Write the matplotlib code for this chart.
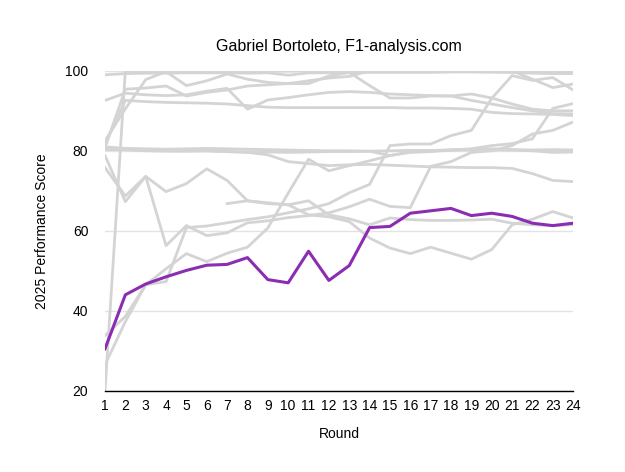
import numpy as np
import matplotlib
matplotlib.use('Agg')
from matplotlib import pyplot as plt

plt.rcParams['font.family'] = ['Liberation Sans', 'DejaVu Sans']

rounds = list(range(1, 25))
nan = np.nan

# Gabriel Bortoleto
bortoleto = [30.5, 44.0, 46.7, 48.5, 50.1, 51.4, 51.6, 53.3, 47.8, 47.0, 54.9, 47.6,
             51.3, 60.8, 61.1, 64.4, 65.0, 65.6, 63.8, 64.4, 63.6, 61.9, 61.3, 61.9]

# the rest of the field (grey)
others = [
    [99.0, 99.3, 99.4, 99.4, 99.5, 99.5, 99.5, 99.4, 99.5, 98.9, 99.5, 99.5,
     99.5, 99.6, 99.6, 99.6, 99.6, 99.7, 99.7, 99.7, 99.7, 99.6, 99.6, 99.6],
    [20.0, 100.0, 99.9, 99.9, 99.8, 99.8, 99.8, 99.9, 99.9, 99.9, 100.0, 100.0,
     100.0, 100.0, 100.0, 100.0, 100.0, 100.0, 100.0, 100.0, 100.0, 97.9, 95.8, 96.7],
    [82.5, 90.5, 97.8, 99.8, 96.3, 97.5, 99.2, 97.9, 97.1, 96.8, 96.8, 98.7,
     99.6, 96.3, 93.2, 93.2, 93.7, 93.7, 94.2, 93.2, 91.7, 90.4, 90.0, 90.0],
    [92.6, 94.4, 94.0, 93.8, 94.0, 94.9, 95.6, 90.4, 92.7, 93.3, 94.0, 94.6,
     94.8, 94.6, 94.2, 94.0, 93.8, 93.7, 92.6, 91.7, 90.8, 90.0, 89.3, 89.2],
    [81.5, 92.6, 92.3, 92.1, 92.0, 91.9, 91.7, 91.3, 90.9, 90.8, 90.8, 90.8,
     90.8, 90.8, 90.8, 90.7, 90.7, 90.6, 90.4, 89.6, 89.3, 89.2, 89.1, 88.8],
    [80.8, 95.4, 95.7, 96.2, 93.7, 94.6, 95.2, 96.2, 96.5, 96.8, 97.5, 98.2,
     98.6, 100.0, 99.9, 99.9, 100.0, 100.0, 99.8, 99.7, 99.6, 99.4, 99.3, 99.3],
    [81.0, 80.6, 80.5, 80.4, 80.5, 80.6, 80.5, 80.4, 80.3, 80.2, 80.1, 80.0,
     80.0, 79.9, 78.8, 79.8, 80.0, 80.2, 80.4, 80.5, 80.3, 80.2, 80.3, 80.2],
    [80.3, 80.3, 80.0, 79.9, 79.9, 80.0, 79.8, 79.7, 79.7, 79.6, 79.7, 79.8,
     79.8, 79.9, 80.0, 80.1, 80.1, 80.2, 80.3, 80.3, 80.2, 80.0, 79.6, 79.7],
    [80.5, 80.3, 80.2, 80.1, 80.0, 80.0, 79.8, 79.6, 79.0, 77.3, 76.8, 76.3,
     76.5, 76.6, 76.4, 76.2, 76.0, 75.9, 75.8, 75.8, 75.6, 74.3, 72.6, 72.3],
    [78.8, 67.3, 73.6, 69.8, 71.8, 75.5, 72.6, 67.5, 66.8, 66.5, 64.0, 63.5,
     62.3, 58.2, 55.7, 54.3, 55.9, 54.4, 52.9, 55.3, 61.5, 62.9, 64.8, 63.2],
    [75.8, 68.7, 73.6, 56.3, 61.3, 58.8, 59.5, 62.0, 62.5, 63.3, 63.8, 64.5,
     66.0, 67.9, 66.1, 65.8, 76.1, 77.3, 79.6, 80.0, 81.3, 84.2, 85.1, 87.2],
    [33.8, 38.6, 46.5, 47.3, 60.8, 61.2, 62.0, 62.8, 63.5, 64.5, 65.5, 66.8,
     69.5, 71.6, 81.3, 81.7, 81.7, 83.8, 85.1, 93.1, 98.8, 97.6, 98.3, 95.2],
    [26.5, 37.3, 46.5, 50.5, 54.3, 52.3, 54.4, 55.9, 60.7, 69.4, 77.9, 75.0,
     76.3, 77.5, 78.8, 79.6, 79.8, 80.2, 80.5, 81.3, 81.8, 83.0, 90.6, 91.8],
    [nan, nan, nan, nan, nan, nan, 66.8, 67.5, 67.0, 66.5, 67.5, 64.0,
     63.0, 61.5, 63.2, 62.8, 62.6, 62.6, 62.7, 62.9, 61.9, 61.5, 61.3, 61.5],
]

fig = plt.figure(figsize=(6.25, 4.72), dpi=100)
ax = fig.add_axes([0.168, 0.172, 0.749, 0.678])

for s in others:
    ax.plot(rounds, s, color='#d4d4d4', linewidth=2.0, zorder=2)
ax.plot(rounds, bortoleto, color='#8b2db3', linewidth=2.2, zorder=3)

ax.set_xlim(1, 24)
ax.set_ylim(20, 100)
ax.set_xticks(rounds)
ax.set_yticks([20, 40, 60, 80, 100])
ax.yaxis.grid(True, color='#e3e3e3', linewidth=1.0, zorder=1)
ax.set_axisbelow(True)

for side in ['top', 'right', 'left']:
    ax.spines[side].set_visible(False)
ax.spines['bottom'].set_color('black')
ax.spines['bottom'].set_linewidth(1.0)
ax.tick_params(axis='both', length=0, labelsize=10)
ax.tick_params(axis='y', pad=12)
ax.tick_params(axis='x', pad=6)

ax.set_title('Gabriel Bortoleto, F1-analysis.com', fontsize=11.5, pad=14)
ax.set_xlabel('Round', fontsize=10, labelpad=10)
ax.set_ylabel('2025 Performance Score', fontsize=10, labelpad=12)

fig.savefig('out.png', dpi=100, facecolor='white')
